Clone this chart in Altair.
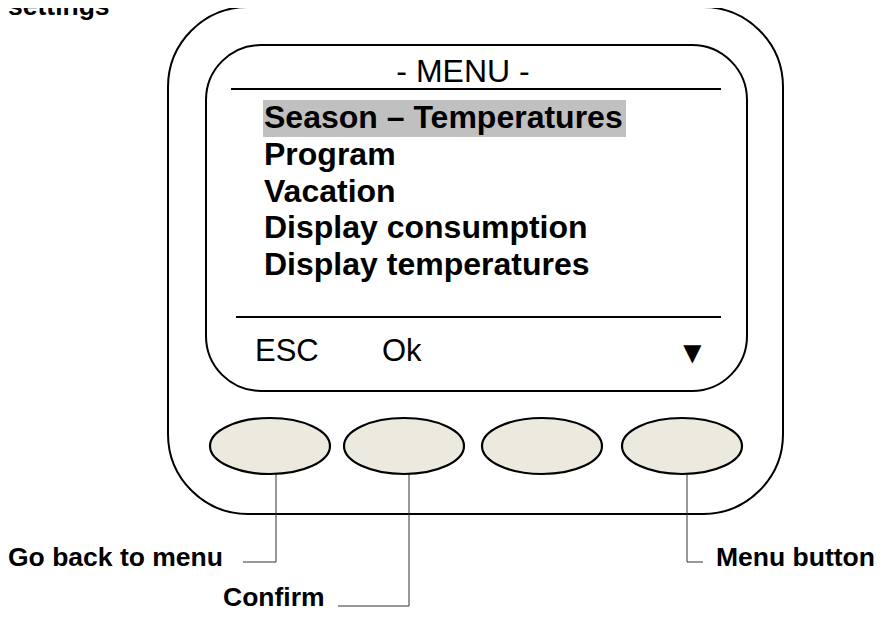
import altair as alt
import pandas as pd

# ---- diagram content (page pixel coordinates) ----
frame_x0 = [168]
frame_x1 = [783]
frame_y0 = [7]
frame_y1 = [514]

screen_x0 = [206]
screen_x1 = [747]
screen_y0 = [45]
screen_y1 = [391]

sep_x0 = [231, 236]
sep_x1 = [721, 721]
sep_y = [89, 317]

header = ["- MENU -"]
header_x = [463]
header_y = [72]

menu_items = ["Season \u2013 Temperatures", "Program", "Vacation",
              "Display consumption", "Display temperatures"]
menu_y = [118, 155, 192, 228, 265]
menu_x = [264] * 5

highlight_x0 = [263]
highlight_x1 = [626]
highlight_y0 = [100]
highlight_y1 = [137]

soft_keys = ["ESC", "Ok", "\u25BC"]
soft_x = [255, 382, 677]
soft_y = [352, 352, 354]

button_x = [270, 404, 542, 682]
button_y = [446, 446, 446, 446]

seg_x0 = [276, 243, 409, 338, 687, 687]
seg_x1 = [276, 276, 409, 409, 687, 703]
seg_y0 = [474, 562, 474, 606, 474, 562]
seg_y1 = [562, 562, 606, 606, 562, 562]

labels = ["Go back to menu", "Confirm", "Menu button"]
label_x = [8, 223, 716]
label_y = [558, 598, 558]

corner_title = ["settings"]
corner_x = [8]
corner_y = [15]

W, H = 870, 605
xs = alt.Scale(domain=[8, 8 + W], nice=False, zero=False)
ys = alt.Scale(domain=[8, 8 + H], nice=False, zero=False, reverse=True)

def X(f):
    return alt.X(f, type="quantitative", scale=xs, axis=None)

def X2(f):
    return alt.X2(f)

def Y(f):
    return alt.Y(f, type="quantitative", scale=ys, axis=None)

def Y2(f):
    return alt.Y2(f)

FONT = "Liberation Sans"

frame = alt.Chart(pd.DataFrame({"x0": frame_x0, "x1": frame_x1, "y0": frame_y0, "y1": frame_y1})).mark_rect(
    cornerRadius=80, fill="white", stroke="black", strokeWidth=2
).encode(x=X("x0"), x2=X2("x1"), y=Y("y0"), y2=Y2("y1"))

screen = alt.Chart(pd.DataFrame({"x0": screen_x0, "x1": screen_x1, "y0": screen_y0, "y1": screen_y1})).mark_rect(
    cornerRadius=55, fill="white", stroke="black", strokeWidth=2
).encode(x=X("x0"), x2=X2("x1"), y=Y("y0"), y2=Y2("y1"))

seps = alt.Chart(pd.DataFrame({"x0": sep_x0, "x1": sep_x1, "y": sep_y})).mark_rule(
    color="black", strokeWidth=2
).encode(x=X("x0"), x2=X2("x1"), y=Y("y"))

hl = alt.Chart(pd.DataFrame({"x0": highlight_x0, "x1": highlight_x1, "y0": highlight_y0, "y1": highlight_y1})).mark_rect(
    color="#C0C0C0"
).encode(x=X("x0"), x2=X2("x1"), y=Y("y0"), y2=Y2("y1"))

head = alt.Chart(pd.DataFrame({"t": header, "x": header_x, "y": header_y})).mark_text(
    font=FONT, fontSize=32, align="center", baseline="middle", color="black"
).encode(x=X("x"), y=Y("y"), text="t:N")

items = alt.Chart(pd.DataFrame({"t": menu_items, "x": menu_x, "y": menu_y})).mark_text(
    font=FONT, fontSize=32, fontWeight="bold", align="left", baseline="middle", color="black"
).encode(x=X("x"), y=Y("y"), text="t:N")

keys = alt.Chart(pd.DataFrame({"t": soft_keys, "x": soft_x, "y": soft_y})).mark_text(
    font=FONT, fontSize=31, align="left", baseline="middle", color="black"
).encode(x=X("x"), y=Y("y"), text="t:N")

ELLIPSE = ("M -1 0 C -1 -0.258 -0.552 -0.467 0 -0.467 "
           "C 0.552 -0.467 1 -0.258 1 0 "
           "C 1 0.258 0.552 0.467 0 0.467 "
           "C -0.552 0.467 -1 0.258 -1 0 Z")

buttons = alt.Chart(pd.DataFrame({"x": button_x, "y": button_y})).mark_point(
    shape=ELLIPSE, size=120 * 120, filled=True, fill="#ECEADF", fillOpacity=1,
    stroke="black", strokeWidth=2.2, opacity=1
).encode(x=X("x"), y=Y("y"))

segs = alt.Chart(pd.DataFrame({"x0": seg_x0, "x1": seg_x1, "y0": seg_y0, "y1": seg_y1})).mark_rule(
    color="#333333", strokeWidth=1
).encode(x=X("x0"), x2=X2("x1"), y=Y("y0"), y2=Y2("y1"))

labs = alt.Chart(pd.DataFrame({"t": labels, "x": label_x, "y": label_y})).mark_text(
    font=FONT, fontSize=26.5, fontWeight="bold", align="left", baseline="middle", color="black"
).encode(x=X("x"), y=Y("y"), text="t:N")

corner = alt.Chart(pd.DataFrame({"t": corner_title, "x": corner_x, "y": corner_y})).mark_text(
    font=FONT, fontSize=26.5, fontWeight="bold", align="left", baseline="alphabetic", color="black"
).encode(x=X("x"), y=Y("y"), text="t:N")

chart = alt.layer(frame, screen, seps, hl, head, items, keys, segs, buttons, labs, corner).properties(
    width=W, height=H, padding=0, autosize=alt.AutoSizeParams(type="none")
).configure_view(stroke=None)

chart.save("out.html", embed_options={"renderer": "svg", "actions": False})
